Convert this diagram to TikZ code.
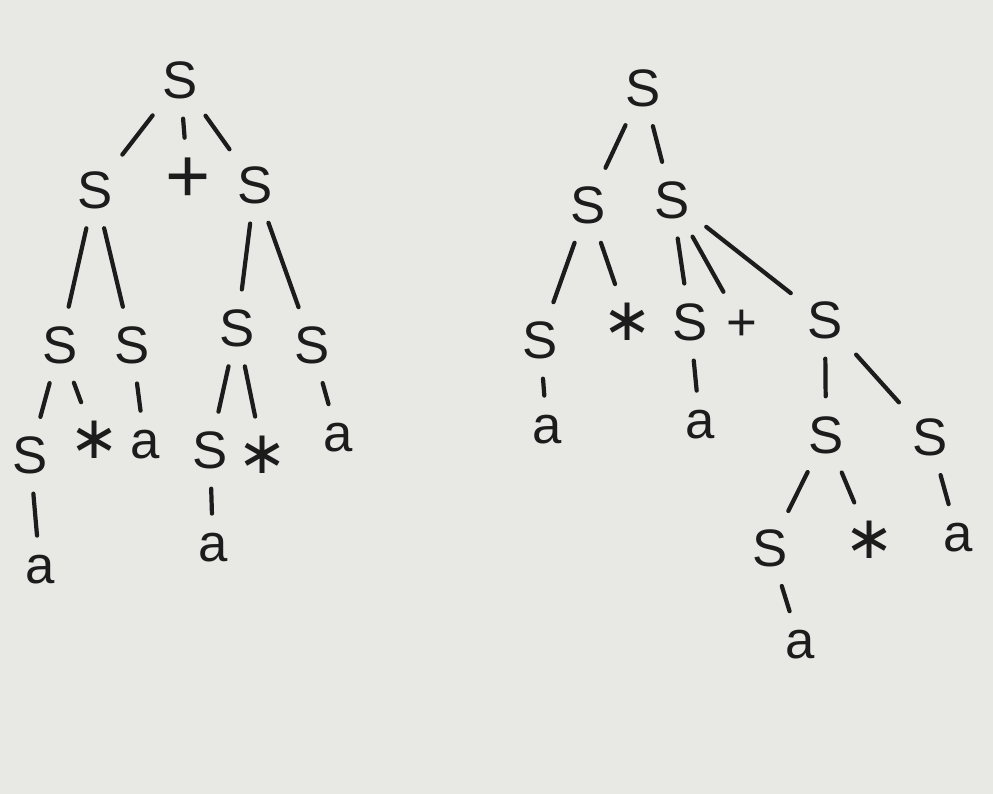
\documentclass[tikz,border=0pt]{standalone}
\usepackage{fontspec}
\setmainfont{Liberation Sans}
\newfontfamily\starfont{DejaVu Sans}
\definecolor{paper}{RGB}{232,232,229}
\definecolor{pen}{RGB}{28,28,28}
\tikzset{sym/.style={draw=none,text=pen,font=\fontsize{15}{15}\selectfont,inner sep=1pt},
  star/.style={sym,font=\starfont\fontsize{17}{17}\selectfont},
  br/.style={pen,line width=1.2pt,line cap=round,shorten <=4.5pt,shorten >=4.5pt}}

\begin{document}
\begin{tikzpicture}
\fill[paper] (0,0) rectangle (9.93,-7.94);

% left tree
\node[sym] (ls) at (1.80,-0.80) {S};
\node[sym] (lsl) at (0.95,-1.90) {S};
\node[sym,font=\fontsize{22}{22}\selectfont] (lplus) at (1.88,-1.80) {+};
\node[sym] (lsr) at (2.55,-1.85) {S};
\node[sym] (lsll) at (0.60,-3.45) {S};
\node[sym] (lslr) at (1.32,-3.45) {S};
\node[sym] (lsrl) at (2.37,-3.28) {S};
\node[sym] (lsrr) at (3.12,-3.45) {S};
\node[sym] (lslll) at (0.30,-4.55) {S};
\node[star] (lstar1) at (0.95,-4.40) {∗};
\node[sym] (la2) at (1.45,-4.45) {a};
\node[sym] (lsrll) at (2.10,-4.50) {S};
\node[star] (lstar2) at (2.63,-4.55) {∗};
\node[sym] (la4) at (3.38,-4.38) {a};
\node[sym] (la1) at (0.40,-5.70) {a};
\node[sym] (la3) at (2.13,-5.48) {a};

\draw[br] (ls) -- (lsl);
\draw[br] (ls) -- (lplus);
\draw[br] (ls) -- (lsr);
\draw[br] (lsl) -- (lsll);
\draw[br] (lsl) -- (lslr);
\draw[br] (lsr) -- (lsrl);
\draw[br] (lsr) -- (lsrr);
\draw[br] (lsll) -- (lslll);
\draw[br] (lsll) -- (lstar1);
\draw[br] (lslr) -- (la2);
\draw[br] (lsrl) -- (lsrll);
\draw[br] (lsrl) -- (lstar2);
\draw[br] (lsrr) -- (la4);
\draw[br] (lslll) -- (la1);
\draw[br] (lsrll) -- (la3);

% right tree
\node[sym] (rs) at (6.43,-0.88) {S};
\node[sym] (rsl) at (5.88,-2.05) {S};
\node[sym] (rsr) at (6.72,-2.00) {S};
\node[sym] (rsll) at (5.40,-3.40) {S};
\node[star] (rstar1) at (6.28,-3.22) {∗};
\node[sym] (rsrl) at (6.90,-3.22) {S};
\node[sym] (rplus) at (7.42,-3.25) {+};
\node[sym] (rsrr) at (8.25,-3.20) {S};
\node[sym] (ra1) at (5.47,-4.30) {a};
\node[sym] (ra2) at (7.00,-4.25) {a};
\node[sym] (rsrrl) at (8.26,-4.35) {S};
\node[sym] (rsrrr) at (9.30,-4.37) {S};
\node[sym] (rsrrll) at (7.70,-5.48) {S};
\node[star] (rstar2) at (8.70,-5.40) {∗};
\node[sym] (ra4) at (9.58,-5.38) {a};
\node[sym] (ra3) at (8.00,-6.45) {a};

\draw[br] (rs) -- (rsl);
\draw[br] (rs) -- (rsr);
\draw[br] (rsl) -- (rsll);
\draw[br] (rsl) -- (rstar1);
\draw[br] (rsr) -- (rsrl);
\draw[br] (rsr) -- (rplus);
\draw[br] (rsr) -- (rsrr);
\draw[br] (rsll) -- (ra1);
\draw[br] (rsrl) -- (ra2);
\draw[br] (rsrr) -- (rsrrl);
\draw[br] (rsrr) -- (rsrrr);
\draw[br] (rsrrl) -- (rsrrll);
\draw[br] (rsrrl) -- (rstar2);
\draw[br] (rsrrr) -- (ra4);
\draw[br] (rsrrll) -- (ra3);
\end{tikzpicture}
\end{document}
